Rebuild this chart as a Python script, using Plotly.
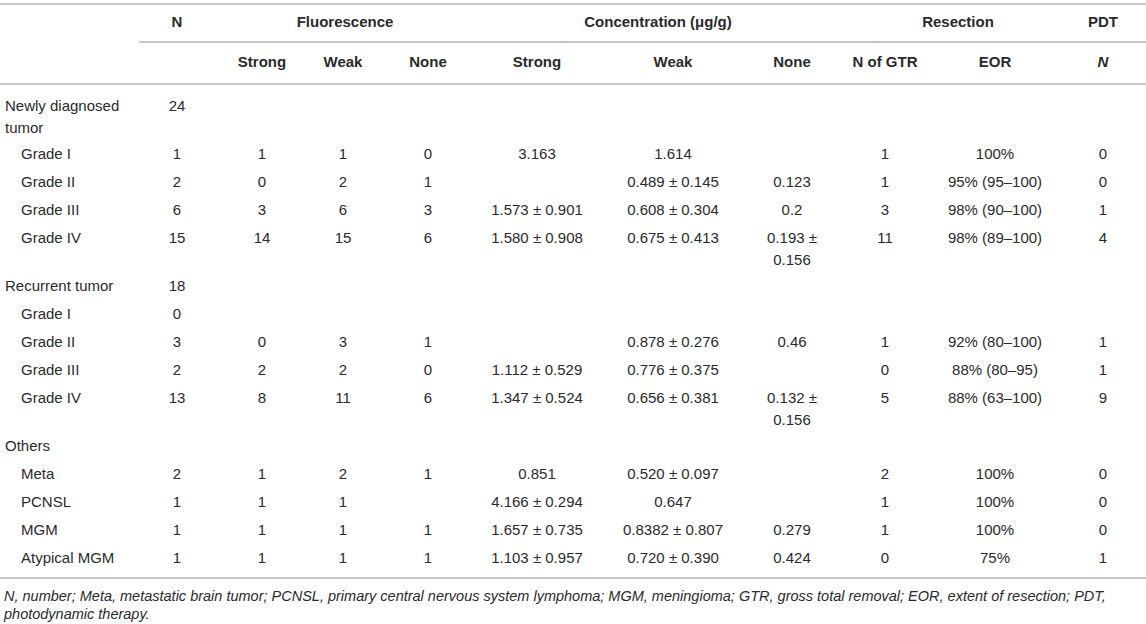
import textwrap
import plotly.graph_objects as go

# ---- table content ----
row_labels = ["Newly diagnosed tumor", "Grade I", "Grade II", "Grade III", "Grade IV",
              "Recurrent tumor", "Grade I", "Grade II", "Grade III", "Grade IV",
              "Others", "Meta", "PCNSL", "MGM", "Atypical MGM"]
is_group = [True, False, False, False, False,
            True, False, False, False, False,
            True, False, False, False, False]

n_total = ["24", "1", "2", "6", "15", "18", "0", "3", "2", "13", "", "2", "1", "1", "1"]
fl_strong = ["", "1", "0", "3", "14", "", "", "0", "2", "8", "", "1", "1", "1", "1"]
fl_weak = ["", "1", "2", "6", "15", "", "", "3", "2", "11", "", "2", "1", "1", "1"]
fl_none = ["", "0", "1", "3", "6", "", "", "1", "0", "6", "", "1", "", "1", "1"]
conc_strong = ["", "3.163", "", "1.573 ± 0.901", "1.580 ± 0.908", "", "", "",
               "1.112 ± 0.529", "1.347 ± 0.524", "", "0.851", "4.166 ± 0.294",
               "1.657 ± 0.735", "1.103 ± 0.957"]
conc_weak = ["", "1.614", "0.489 ± 0.145", "0.608 ± 0.304", "0.675 ± 0.413", "", "",
             "0.878 ± 0.276", "0.776 ± 0.375", "0.656 ± 0.381", "", "0.520 ± 0.097",
             "0.647", "0.8382 ± 0.807", "0.720 ± 0.390"]
conc_none = ["", "", "0.123", "0.2", "0.193 ± 0.156", "", "", "0.46", "",
             "0.132 ± 0.156", "", "", "", "0.279", "0.424"]
n_gtr = ["", "1", "1", "3", "11", "", "", "1", "0", "5", "", "2", "1", "1", "0"]
eor = ["", "100%", "95% (95–100)", "98% (90–100)", "98% (89–100)", "", "",
       "92% (80–100)", "88% (80–95)", "88% (63–100)", "", "100%", "100%", "100%", "75%"]
pdt = ["", "0", "0", "1", "4", "", "", "1", "1", "9", "", "0", "0", "0", "1"]

group_headers = ["N", "Fluorescence", "Concentration (μg/g)", "Resection", "PDT"]
sub_headers = ["Strong", "Weak", "None", "Strong", "Weak", "None", "N of GTR", "EOR", "<i>N</i>"]

footnote = ["N, number; Meta, metastatic brain tumor; PCNSL, primary central nervous system "
            "lymphoma; MGM, meningioma; GTR, gross total removal; EOR, extent of resection; PDT,",
            "photodynamic therapy."]

# ---- layout of the page (pixels) ----
W, H = 1146, 624
FONT = "Liberation Sans, Arial, Helvetica, sans-serif"
TXT = "#2a2a2a"
RULE = "#c6c6c6"
FS = 15

value_cols = [n_total, fl_strong, fl_weak, fl_none, conc_strong, conc_weak, conc_none,
              n_gtr, eor, pdt]
col_x = [177, 262, 343, 428, 537, 673, 792, 885, 995, 1103]
col_wrap = [40, 40, 40, 40, 40, 40, 8, 40, 40, 40]
group_x = [177, 345, 658, 958, 1103]
label_wrap = 16
line_gap = 22

# row positions: single-line rows 28px, extra line adds 20px
row_y = []
y = 107
for i, lab in enumerate(row_labels):
    row_y.append(y)
    nlines = len(textwrap.wrap(lab, label_wrap))
    for col, w in zip(value_cols, col_wrap):
        if col[i]:
            nlines = max(nlines, len(textwrap.wrap(col[i], w)))
    y += 28 + 20 * (nlines - 1)

fig = go.Figure()


def add_text(xs, ys, texts, pos="middle center", bold=False, size=FS, italic=False):
    fig.add_trace(go.Scatter(
        x=xs, y=ys, text=texts, mode="text", textposition=pos, cliponaxis=False,
        textfont=dict(family=FONT, size=size, color=TXT,
                      weight="bold" if bold else "normal",
                      style="italic" if italic else "normal"),
        hoverinfo="skip", showlegend=False,
    ))


# header rows
add_text(group_x, [23] * len(group_x), group_headers, bold=True)
add_text(col_x[1:], [63] * len(sub_headers), sub_headers, bold=True)

# row labels
lx, ly, lt = [], [], []
for i, lab in enumerate(row_labels):
    for k, part in enumerate(textwrap.wrap(lab, label_wrap)):
        lx.append(5 if is_group[i] else 21)
        ly.append(row_y[i] + k * line_gap)
        lt.append(part)
add_text(lx, ly, lt, pos="middle right")

# body cells
for col, cx, w in zip(value_cols, col_x, col_wrap):
    xs, ys, ts = [], [], []
    for i, val in enumerate(col):
        if not val:
            continue
        for k, part in enumerate(textwrap.wrap(val, w)):
            xs.append(cx)
            ys.append(row_y[i] + k * line_gap)
            ts.append(part)
    add_text(xs, ys, ts)

# footnote
bottom_rule = row_y[-1] + 19
add_text([4, 4], [bottom_rule + 19, bottom_rule + 37], footnote,
         pos="middle right", size=14.5, italic=True)

# rules
rules = [(0, W, 4), (139, W, 42), (0, W, 84), (0, W, bottom_rule)]
for x0, x1, yy in rules:
    fig.add_shape(type="line", xref="x", yref="y", x0=x0, x1=x1, y0=yy, y1=yy,
                  line=dict(color=RULE, width=2))

fig.update_layout(
    width=W, height=H,
    margin=dict(l=0, r=0, t=0, b=0),
    paper_bgcolor="white", plot_bgcolor="white",
    xaxis=dict(range=[0, W], visible=False, fixedrange=True),
    yaxis=dict(range=[H, 0], visible=False, fixedrange=True),
)

# drop the default 8px page margin so the figure fills the window
fig.write_html("out.html", config={"displayModeBar": False},
               post_script="document.body.style.margin='0';")
